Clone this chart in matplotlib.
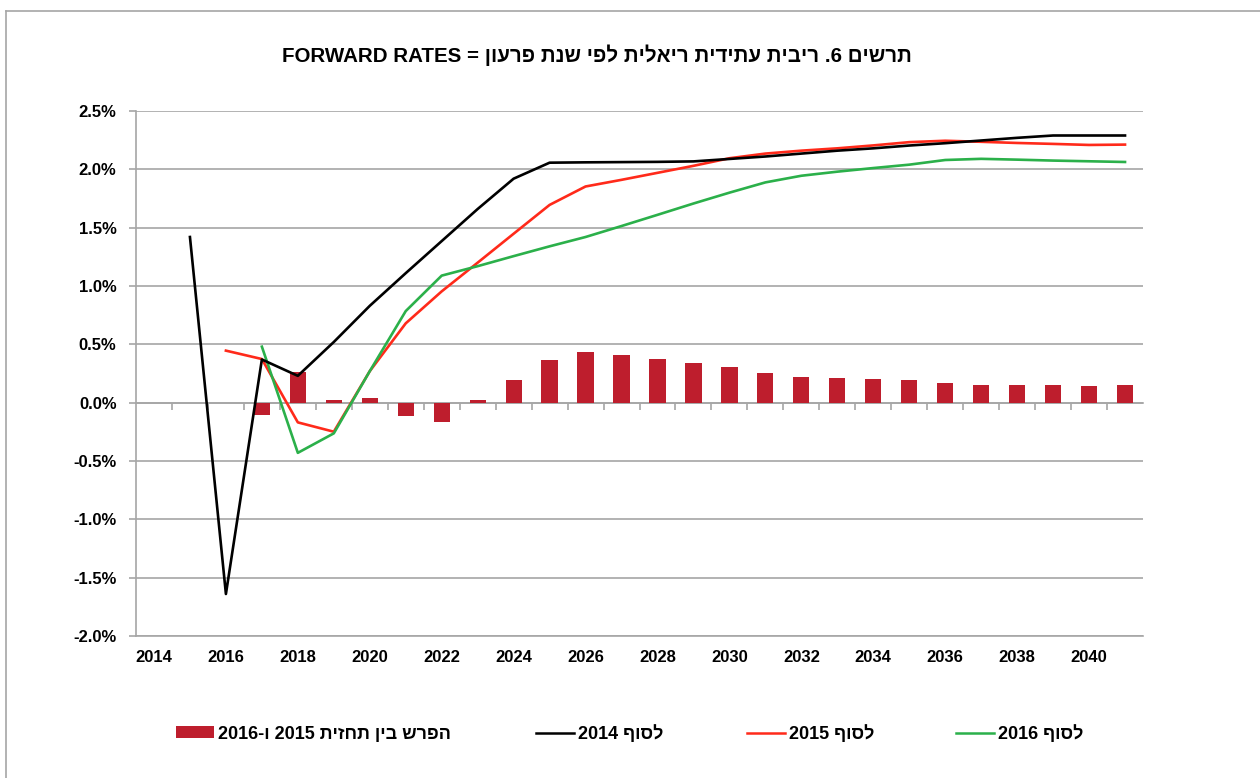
import re

import numpy as np
import matplotlib
matplotlib.use("Agg")
import matplotlib.pyplot as plt
from matplotlib.lines import Line2D
from matplotlib.patches import Patch

plt.rcParams['font.family'] = ['Liberation Sans', 'DejaVu Sans']
plt.rcParams['font.weight'] = 'bold'

# data (percent)
years = list(range(2014, 2042))
fwd_2014 = [None, 1.42, -1.64, 0.37, 0.23, 0.52, 0.83, 1.11, 1.385, 1.66, 1.92, 2.057, 2.06, 2.062,
            2.064, 2.068, 2.089, 2.11, 2.135, 2.16, 2.18, 2.204, 2.224, 2.247, 2.27, 2.29, 2.29, 2.29]
fwd_2015 = [None, None, 0.446, 0.374, -0.169, -0.249, 0.27, 0.68, 0.954, 1.20, 1.448, 1.695, 1.853, 1.91,
            1.97, 2.03, 2.095, 2.135, 2.16, 2.18, 2.205, 2.233, 2.245, 2.236, 2.226, 2.218, 2.209, 2.212]
fwd_2016 = [None, None, None, 0.48, -0.43, -0.263, 0.27, 0.785, 1.089, 1.17, 1.256, 1.34, 1.42, 1.514,
            1.61, 1.707, 1.80, 1.888, 1.945, 1.98, 2.011, 2.04, 2.08, 2.09, 2.083, 2.075, 2.069, 2.063]
diff_bars = [None, None, None, -0.103, 0.266, 0.02, 0.037, -0.117, -0.166, 0.02, 0.19, 0.362, 0.437, 0.405,
             0.374, 0.339, 0.307, 0.256, 0.216, 0.21, 0.201, 0.193, 0.17, 0.149, 0.149, 0.149, 0.147, 0.155]

title = "תרשים 6. ריבית עתידית ריאלית לפי שנת פרעון = FORWARD RATES"
lbl_diff = "הפרש בין תחזית 2015 ו-2016"
lbl_2014 = "לסוף 2014"
lbl_2015 = "לסוף 2015"
lbl_2016 = "לסוף 2016"

ytick_vals = [-2.0, -1.5, -1.0, -0.5, 0.0, 0.5, 1.0, 1.5, 2.0, 2.5]


def rtl(s):
    # matplotlib has no bidi support: reverse the string, then put LTR runs back in order
    rev = s[::-1]
    return re.sub(r'[A-Za-z0-9][A-Za-z0-9 .\-=]*[A-Za-z0-9]|[A-Za-z0-9]',
                  lambda m: m.group(0)[::-1], rev)


def arr(v):
    return np.array([np.nan if x is None else x for x in v], dtype=float)


GRID = '#a6a6a6'
BAR = '#be1e2d'
RED = '#ff2a1a'
GREEN = '#2bb04a'

W, H = 1260, 778
fig = plt.figure(figsize=(W / 100, H / 100), dpi=100)
ax = fig.add_axes([136 / W, 1 - 636 / H, 1007 / W, 525 / H])

x = np.array(years)
ax.bar(x, arr(diff_bars), width=0.45, color=BAR, zorder=2)
ax.plot(x, arr(fwd_2014), color='black', lw=1.9, zorder=4)
ax.plot(x, arr(fwd_2015), color=RED, lw=1.9, zorder=3)
ax.plot(x, arr(fwd_2016), color=GREEN, lw=1.9, zorder=3)

ax.set_xlim(2013.5, 2041.5)
ax.set_ylim(-2.0, 2.5)
ax.set_yticks(ytick_vals)
ax.set_yticklabels([f"{v:.1f}%" for v in ytick_vals])
ax.yaxis.grid(True, color=GRID, lw=1.2, zorder=0)
ax.set_axisbelow(True)

ax.set_xticks(years[::2])
ax.set_xticklabels([str(y) for y in years[::2]])
ax.tick_params(axis='x', length=0, pad=10, labelsize=12)
ax.tick_params(axis='y', length=5, color=GRID, width=1.2, pad=9, labelsize=12)

for side in ['top', 'right']:
    ax.spines[side].set_visible(False)
for side in ['left', 'bottom']:
    ax.spines[side].set_color(GRID)
    ax.spines[side].set_linewidth(1.2)

# category axis drawn through zero, with ticks between categories
zero_frac = (0 - ytick_vals[0]) / (ytick_vals[-1] - ytick_vals[0])
sec = ax.secondary_xaxis(zero_frac)
sec.set_xticks([y + 0.5 for y in years[:-1]])
sec.tick_params(axis='x', length=5, color=GRID, width=1.2, labelbottom=False, labeltop=False)
for sp in sec.spines.values():
    sp.set_color(GRID)
    sp.set_linewidth(1.2)

fig.text(597 / W, 1 - 55 / H, rtl(title), ha='center', va='center', fontsize=14.8, fontweight='bold')

# legend entries, each placed at its own spot along the bottom
entries = [
    (Patch(facecolor=BAR, edgecolor='none'), rtl(lbl_diff), 176),
    (Line2D([], [], color='black', lw=1.8), rtl(lbl_2014), 536),
    (Line2D([], [], color=RED, lw=1.8), rtl(lbl_2015), 747),
    (Line2D([], [], color=GREEN, lw=1.8), rtl(lbl_2016), 956),
]
for h, lab, xpos in entries:
    fig.legend([h], [lab], loc='center left', bbox_to_anchor=(xpos / W, 1 - 734 / H),
               frameon=False, fontsize=13, handlelength=2.1, handletextpad=0.25,
               borderpad=0, borderaxespad=0, handleheight=0.65)

# outer frame (only top and left edges visible in the source)
fig.add_artist(Line2D([6 / W, 1], [1 - 11 / H, 1 - 11 / H], color=GRID, lw=1.2))
fig.add_artist(Line2D([6 / W, 6 / W], [0, 1 - 11 / H], color=GRID, lw=1.2))

fig.savefig("out.png", dpi=100, facecolor='white')
